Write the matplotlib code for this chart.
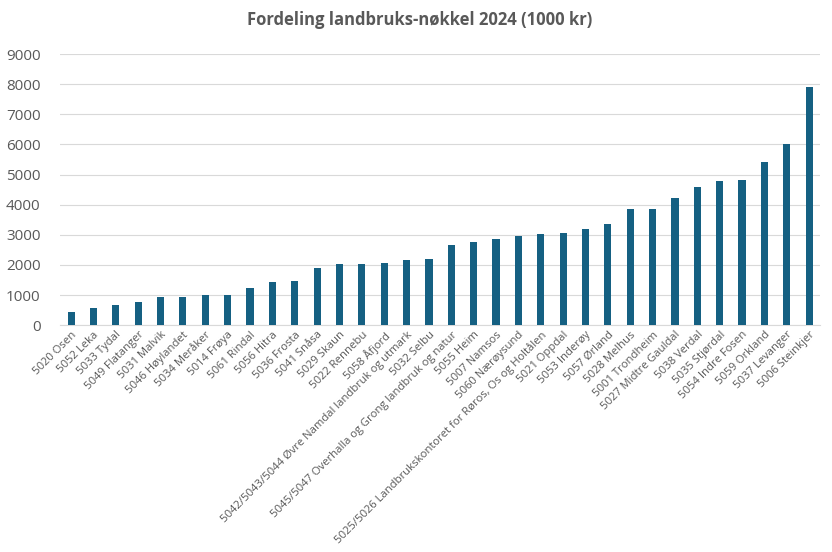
import matplotlib
matplotlib.use("Agg")
import matplotlib.pyplot as plt

categories = [
    "5020 Osen", "5052 Leka", "5033 Tydal", "5049 Flatanger", "5031 Malvik",
    "5046 Høylandet", "5034 Meråker", "5014 Frøya", "5061 Rindal", "5056 Hitra",
    "5036 Frosta", "5041 Snåsa", "5029 Skaun", "5022 Rennebu", "5058 Åfjord",
    "5042/5043/5044 Øvre Namdal landbruk og utmark", "5032 Selbu",
    "5045/5047 Overhalla og Grong landbruk og natur", "5055 Heim", "5007 Namsos",
    "5060 Nærøysund", "5025/5026 Landbrukskontoret for Røros, Os og Holtålen",
    "5021 Oppdal", "5053 Inderøy", "5057 Ørland", "5028 Melhus", "5001 Trondheim",
    "5027 Midtre Gauldal", "5038 Verdal", "5035 Stjørdal", "5054 Indre Fosen",
    "5059 Orkland", "5037 Levanger", "5006 Steinkjer",
]
values = [
    430, 565, 665, 765, 930, 930, 1000, 1000, 1230, 1430,
    1460, 1890, 2030, 2030, 2060, 2160, 2195, 2665, 2765, 2865,
    2965, 3030, 3065, 3200, 3365, 3860, 3860, 4225, 4590, 4790,
    4820, 5420, 6020, 7910,
]
yticks = list(range(0, 9001, 1000))
title = "Fordeling landbruks-nøkkel 2024 (1000 kr)"

plt.rcParams['font.family'] = ['Open Sans', 'DejaVu Sans']
txt = "#595959"

fig = plt.figure(figsize=(8.32, 5.52), dpi=100)
ax = fig.add_axes([0.072, 0.411, 0.914, 0.491])
x = list(range(len(categories)))
ax.bar(x, values, width=0.32, color="#156082", zorder=3)
ax.set_xlim(-0.5, len(categories) - 0.5)
ax.set_ylim(0, 9000)
ax.set_yticks(yticks)
ax.set_yticklabels([str(v) for v in yticks], fontsize=11, color=txt)
ax.set_xticks(x)
ax.set_xticklabels(categories, rotation=45, ha="right", rotation_mode="anchor",
                   fontsize=8.1, color=txt)
ax.tick_params(axis="both", length=0)
ax.tick_params(axis="x", pad=3)
ax.tick_params(axis="y", pad=14)
ax.grid(axis="y", color="#d9d9d9", linewidth=0.8, zorder=0)
for s in ["top", "right", "left"]:
    ax.spines[s].set_visible(False)
ax.spines["bottom"].set_color("#d9d9d9")
ax.spines["bottom"].set_linewidth(0.8)
fig.text(0.504, 0.963, title, ha="center", va="center", fontsize=12,
         fontweight="bold", color=txt)
fig.savefig("out.png", dpi=100, facecolor="white")
